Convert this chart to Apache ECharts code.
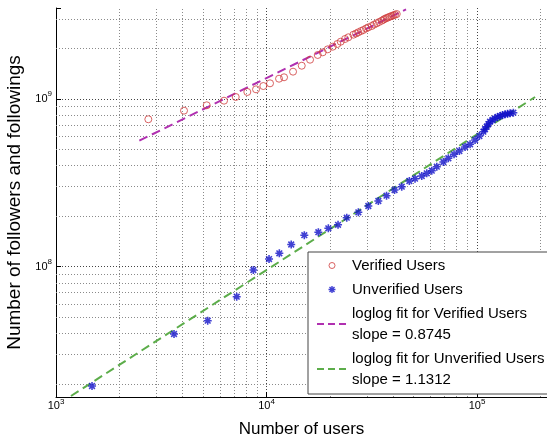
<!DOCTYPE html>
<html><head><meta charset="utf-8">
<script src="https://cdn.jsdelivr.net/npm/echarts@6/dist/echarts.min.js"></script>
<style>html,body{margin:0;padding:0;background:#fff}#c{width:547px;height:441px}</style>
</head><body><div id="c"></div>
<script>
// ---- data ----
const verifiedX = [2745, 4056, 5200, 6283, 7141, 8107, 8918, 9658, 10392, 11468, 12113, 13366, 14703, 16099, 17514, 18497, 19540, 20636, 21700, 22521, 23608, 24476, 25860, 26630, 27310, 28130, 28840, 29710, 30460, 31620, 32420, 33400, 34250, 35270, 35970, 36560, 37250, 37910, 38620, 39340, 40040, 40790, 41560];
const verifiedY = [7.57e8, 8.52e8, 9.17e8, 9.77e8, 1.028e9, 1.101e9, 1.142e9, 1.195e9, 1.240e9, 1.321e9, 1.347e9, 1.455e9, 1.579e9, 1.715e9, 1.830e9, 1.898e9, 1.978e9, 2.050e9, 2.128e9, 2.196e9, 2.279e9, 2.333e9, 2.417e9, 2.458e9, 2.499e9, 2.544e9, 2.579e9, 2.633e9, 2.676e9, 2.724e9, 2.777e9, 2.827e9, 2.878e9, 2.930e9, 2.974e9, 3.011e9, 3.041e9, 3.070e9, 3.100e9, 3.125e9, 3.155e9, 3.181e9, 3.212e9];
const unverifiedX = [1483, 3636, 5256, 7219, 8659, 10280, 11506, 13103, 15122, 17630, 19666, 21866, 24050, 27310, 30460, 33980, 37170, 40570, 43890, 47700, 50760, 54640, 57700, 60950, 64400, 69200, 73070, 77780, 82430, 87750, 92680, 97880, 102600, 107200, 109200, 111200, 113200, 115300, 118500, 121800, 125200, 128700, 132200, 135900, 139700, 143600, 148800];
const unverifiedY = [1.944e7, 3.97e7, 4.764e7, 6.624e7, 9.556e7, 1.111e8, 1.202e8, 1.356e8, 1.541e8, 1.606e8, 1.694e8, 1.778e8, 1.960e8, 2.111e8, 2.301e8, 2.465e8, 2.651e8, 2.867e8, 2.999e8, 3.243e8, 3.347e8, 3.473e8, 3.604e8, 3.736e8, 3.947e8, 4.211e8, 4.431e8, 4.680e8, 4.897e8, 5.173e8, 5.369e8, 5.695e8, 6.017e8, 6.383e8, 6.606e8, 6.837e8, 7.09e8, 7.322e8, 7.496e8, 7.672e8, 7.810e8, 7.918e8, 8.028e8, 8.106e8, 8.161e8, 8.217e8, 8.285e8];
const fitVerifiedX = [2488, 46010];
const fitVerifiedY = [5.64e8, 3.426e9];
const fitUnverifiedX = [1178, 188700];
const fitUnverifiedY = [1.694e7, 1.028e9];
const xTickExponents = [3, 4, 5];
const yTickExponents = [8, 9];
const xRange = [1000, 215000];
const yRange = [1.671e7, 3.488e9];
const seriesNames = ['Verified Users', 'Unverified Users',
  'loglog fit for Verified Users\nslope = 0.8745',
  'loglog fit for Unverified Users\nslope = 1.1312'];
const xTitle = 'Number of users';
const yTitle = 'Number of followers and followings';

// ---- styling ----
const FONT = '"Liberation Sans", Arial, Helvetica, sans-serif';
const RED = '#d03c3c', PURPLE = '#b030b0', BLUE = '#1010c8', GREEN = '#5cad4a';
const STAR = 'path://M-0.8,-4 L0.8,-4 L0.8,4 L-0.8,4 Z M-4,-0.8 L4,-0.8 L4,0.8 L-4,0.8 Z M-3.4,-2.3 L-2.3,-3.4 L3.4,2.3 L2.3,3.4 Z M2.3,-3.4 L3.4,-2.3 L-2.3,3.4 L-3.4,2.3 Z';
const LEG_CIRCLE = 'path://M-15,-7 M15,7 M-3,0 A3,3 0 1,1 3,0 A3,3 0 1,1 -3,0 Z';
const LEG_STAR = 'path://M-15,-7 M15,7 M-0.7,-3.5 L0.7,-3.5 L0.7,3.5 L-0.7,3.5 Z M-3.5,-0.7 L3.5,-0.7 L3.5,0.7 L-3.5,0.7 Z M-3,-2 L-2,-3 L3,2 L2,3 Z M2,-3 L3,-2 L-2,3 L-3,2 Z';
const HIDDEN = { color: 'rgba(0,0,0,0)', borderColor: 'rgba(0,0,0,0)', borderWidth: 0, opacity: 0 };

function zip(a, b) { return a.map((v, i) => [v, b[i]]); }
function decadeMinors(lo, hi) {
  const out = [];
  for (let e = Math.floor(Math.log10(lo)); e <= Math.ceil(Math.log10(hi)); e++) {
    for (let m = 2; m <= 9; m++) {
      const v = m * Math.pow(10, e);
      if (v > lo && v < hi) out.push(v);
    }
  }
  return out;
}
function labelFmt(exps) {
  return function (v) {
    const l = Math.log10(v), e = Math.round(l);
    if (Math.abs(l - e) > 1e-6 || exps.indexOf(e) < 0) return '';
    return '{b|10}{e|' + e + '}';
  };
}
const xMinor = decadeMinors(xRange[0], xRange[1]);
const yMinor = decadeMinors(yRange[0], yRange[1]);
const gridDot = [1, 2];

const chart = echarts.init(document.getElementById('c'), null, { renderer: 'canvas' });
chart.setOption({
  animation: false,
  backgroundColor: '#fff',
  textStyle: { fontFamily: FONT },
  grid: { left: 56, right: 0, top: 8, bottom: 44, outerBoundsMode: 'none', containLabel: false },
  xAxis: {
    type: 'log', logBase: 10, min: xRange[0], max: xRange[1],
    name: xTitle, nameLocation: 'middle', nameGap: 24,
    nameTextStyle: { fontSize: 17, color: '#000', fontFamily: FONT },
    axisLine: { show: true, lineStyle: { color: '#000', width: 1 } },
    axisTick: { show: true, inside: true, length: 5, lineStyle: { color: '#000' } },
    axisLabel: {
      formatter: labelFmt(xTickExponents), margin: 1, color: '#000',
      rich: { b: { fontSize: 11, lineHeight: 16, fontFamily: FONT, color: '#000' },
              e: { fontSize: 8, lineHeight: 7, verticalAlign: 'top', fontFamily: FONT, color: '#000' } }
    },
    splitLine: { show: true, showMinLine: false, showMaxLine: false, lineStyle: { color: '#444', type: gridDot, width: 1 } }
  },
  yAxis: {
    type: 'log', logBase: 10, min: yRange[0], max: yRange[1],
    name: yTitle, nameLocation: 'middle', nameGap: 27,
    nameTextStyle: { fontSize: 19, color: '#000', fontFamily: FONT },
    axisLine: { show: true, lineStyle: { color: '#000', width: 1 } },
    axisTick: { show: true, inside: true, length: 5, lineStyle: { color: '#000' } },
    axisLabel: {
      formatter: labelFmt(yTickExponents), margin: 4, color: '#000',
      rich: { b: { fontSize: 11, lineHeight: 18, fontFamily: FONT, color: '#000' },
              e: { fontSize: 8, lineHeight: 7, verticalAlign: 'top', fontFamily: FONT, color: '#000' } }
    },
    splitLine: { show: true, showMinLine: false, showMaxLine: false, lineStyle: { color: '#444', type: gridDot, width: 1 } }
  },
  legend: {
    orient: 'vertical', left: 308, top: 252,
    padding: [3, 8, 4, 8], itemGap: 3, itemWidth: 30, itemHeight: 14,
    backgroundColor: '#fff', borderColor: '#444', borderWidth: 1, borderRadius: 0,
    textStyle: { fontSize: 15, lineHeight: 21, color: '#000', fontFamily: FONT },
    selectedMode: false,
    data: [
      { name: seriesNames[0], icon: LEG_CIRCLE, itemStyle: { color: 'rgba(255,255,255,0)', borderColor: RED, borderWidth: 1 } },
      { name: seriesNames[1], icon: LEG_STAR, itemStyle: { color: BLUE, borderWidth: 0 } },
      { name: seriesNames[2], itemStyle: HIDDEN, lineStyle: { color: PURPLE, width: 2, type: [7, 4] } },
      { name: seriesNames[3], itemStyle: HIDDEN, lineStyle: { color: GREEN, width: 2, type: [7, 4] } }
    ]
  },
  series: [
    {
      name: seriesNames[2], type: 'line', data: zip(fitVerifiedX, fitVerifiedY),
      symbol: 'none', z: 3, silent: true,
      lineStyle: { color: PURPLE, width: 2, type: [9, 5] }, itemStyle: { color: PURPLE }
    },
    {
      name: seriesNames[3], type: 'line', data: zip(fitUnverifiedX, fitUnverifiedY),
      symbol: 'none', z: 3, silent: true,
      lineStyle: { color: GREEN, width: 2, type: [9, 5] }, itemStyle: { color: GREEN },
      markLine: {
        silent: true, z: 1, symbol: 'none', animation: false,
        label: { show: false },
        lineStyle: { color: '#8a8a8a', type: gridDot, width: 1 },
        emphasis: { disabled: true },
        data: xMinor.map(v => ({ xAxis: v })).concat(yMinor.map(v => ({ yAxis: v })))
      }
    },
    {
      name: seriesNames[0], type: 'scatter', data: zip(verifiedX, verifiedY),
      symbol: 'circle', symbolSize: 7, z: 4,
      itemStyle: { color: 'rgba(255,255,255,0)', borderColor: RED, borderWidth: 1 }
    },
    {
      name: seriesNames[1], type: 'scatter', data: zip(unverifiedX, unverifiedY),
      symbol: STAR, symbolSize: 8, z: 4,
      itemStyle: { color: BLUE }
    }
  ]
});
</script>
</body></html>
